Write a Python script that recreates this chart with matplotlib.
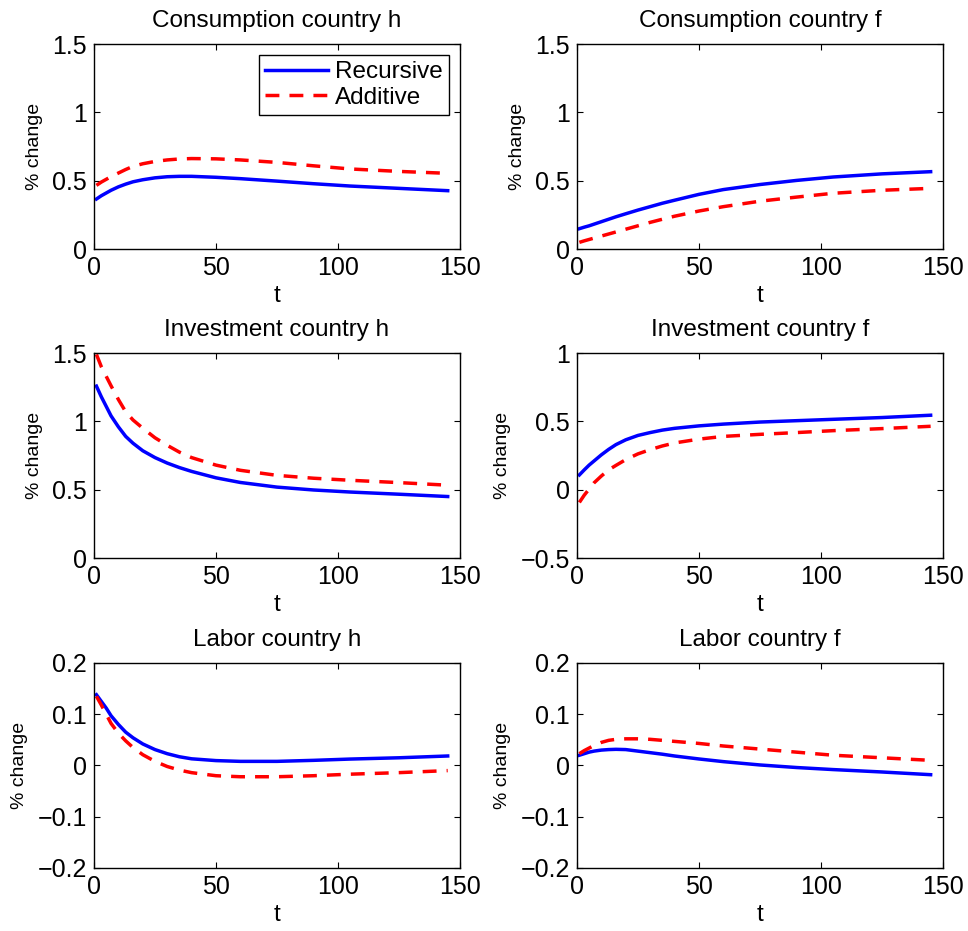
import numpy as np
import matplotlib.pyplot as plt

plt.rcParams['font.family'] = ['Liberation Sans', 'DejaVu Sans']

# time points
t = [1, 3, 5, 7, 10, 13, 16, 20, 25, 30, 35, 40, 50, 60, 75, 90, 105, 125, 145]

cons_h_rec = [0.366, 0.39, 0.41, 0.43, 0.455, 0.475, 0.492, 0.507, 0.521, 0.529, 0.532, 0.532,
              0.525, 0.515, 0.497, 0.478, 0.461, 0.444, 0.427]
cons_h_add = [0.466, 0.49, 0.51, 0.53, 0.556, 0.582, 0.605, 0.624, 0.641, 0.652, 0.659, 0.662,
              0.66, 0.652, 0.634, 0.609, 0.586, 0.568, 0.554]

cons_f_rec = [0.149, 0.16, 0.17, 0.182, 0.20, 0.218, 0.236, 0.258, 0.285, 0.31, 0.335, 0.357,
              0.40, 0.435, 0.472, 0.502, 0.527, 0.55, 0.566]
cons_f_add = [0.049, 0.06, 0.07, 0.08, 0.095, 0.11, 0.125, 0.145, 0.17, 0.195, 0.218, 0.24,
              0.278, 0.31, 0.35, 0.38, 0.408, 0.43, 0.444]

inv_h_rec = [1.258, 1.18, 1.11, 1.04, 0.96, 0.89, 0.84, 0.785, 0.735, 0.695, 0.662, 0.634,
             0.587, 0.553, 0.519, 0.498, 0.483, 0.467, 0.45]
inv_h_add = [1.49, 1.40, 1.33, 1.26, 1.16, 1.07, 1.01, 0.95, 0.88, 0.825, 0.775, 0.735,
             0.68, 0.642, 0.605, 0.584, 0.569, 0.552, 0.533]

inv_f_rec = [0.108, 0.145, 0.18, 0.21, 0.255, 0.295, 0.33, 0.365, 0.397, 0.418, 0.436, 0.449,
             0.467, 0.48, 0.495, 0.505, 0.515, 0.528, 0.545]
inv_f_add = [-0.093, -0.04, 0.005, 0.05, 0.10, 0.145, 0.178, 0.22, 0.262, 0.293, 0.32, 0.342,
             0.37, 0.39, 0.405, 0.418, 0.432, 0.447, 0.464]

lab_h_rec = [0.138, 0.125, 0.112, 0.097, 0.08, 0.065, 0.054, 0.042, 0.031, 0.023, 0.017, 0.013,
             0.0095, 0.008, 0.008, 0.010, 0.0125, 0.015, 0.0185]
lab_h_add = [0.135, 0.118, 0.10, 0.082, 0.063, 0.048, 0.035, 0.021, 0.008, -0.002, -0.009, -0.014,
             -0.020, -0.022, -0.022, -0.020, -0.017, -0.014, -0.010]

lab_f_rec = [0.02, 0.023, 0.026, 0.028, 0.030, 0.031, 0.0315, 0.031, 0.028, 0.025, 0.022, 0.0185,
             0.0127, 0.0075, 0.001, -0.004, -0.008, -0.0127, -0.018]
lab_f_add = [0.023, 0.029, 0.034, 0.039, 0.045, 0.049, 0.051, 0.052, 0.052, 0.051, 0.049, 0.047,
             0.043, 0.038, 0.032, 0.026, 0.02, 0.015, 0.010]

titles = ['Consumption country h', 'Consumption country f',
          'Investment country h', 'Investment country f',
          'Labor country h', 'Labor country f']
series = [(cons_h_rec, cons_h_add), (cons_f_rec, cons_f_add),
          (inv_h_rec, inv_h_add), (inv_f_rec, inv_f_add),
          (lab_h_rec, lab_h_add), (lab_f_rec, lab_f_add)]
ylims = [(0, 1.5), (0, 1.5), (0, 1.5), (-0.5, 1), (-0.2, 0.2), (-0.2, 0.2)]
yticks = [[0, 0.5, 1, 1.5], [0, 0.5, 1, 1.5], [0, 0.5, 1, 1.5],
          [-0.5, 0, 0.5, 1], [-0.2, -0.1, 0, 0.1, 0.2], [-0.2, -0.1, 0, 0.1, 0.2]]

fig = plt.figure(figsize=(9.68, 9.31), dpi=100)
lefts = [0.0971, 0.596]
bottoms = [0.7325, 0.4006, 0.0677]

for i in range(6):
    r, c = divmod(i, 2)
    ax = fig.add_axes([lefts[c], bottoms[r], 0.378, 0.2202])
    rec, add = series[i]
    ax.plot(t, rec, color='#0000ff', lw=2.5, label='Recursive')
    ax.plot(t, add, color='#ff0000', lw=2.5, ls=(0, (4.0, 2.9)), label='Additive')
    ax.set_xlim(0, 150)
    ax.set_ylim(*ylims[i])
    ax.set_xticks([0, 50, 100, 150])
    ax.set_yticks(yticks[i])
    ax.set_yticklabels([('%g' % v).replace('-', '\u2212') for v in yticks[i]])
    ax.tick_params(direction='in', length=4, width=0.8, labelsize=18,
                   top=True, right=True, pad=5)
    for s in ax.spines.values():
        s.set_linewidth(1.0)
    ax.set_title(titles[i], fontsize=17.5, pad=12.5)
    ax.set_xlabel('t', fontsize=17.5, labelpad=3.5)
    ax.set_ylabel('% change', fontsize=14, labelpad=7)
    if i == 0:
        leg = ax.legend(loc='upper right', fontsize=17.5, frameon=True, fancybox=False,
                        edgecolor='black', framealpha=1, borderaxespad=0.45,
                        borderpad=0.25, labelspacing=0.15, handlelength=2.6,
                        handletextpad=0.3)
        leg.get_frame().set_linewidth(1.0)

fig.savefig('out.png', dpi=100)
